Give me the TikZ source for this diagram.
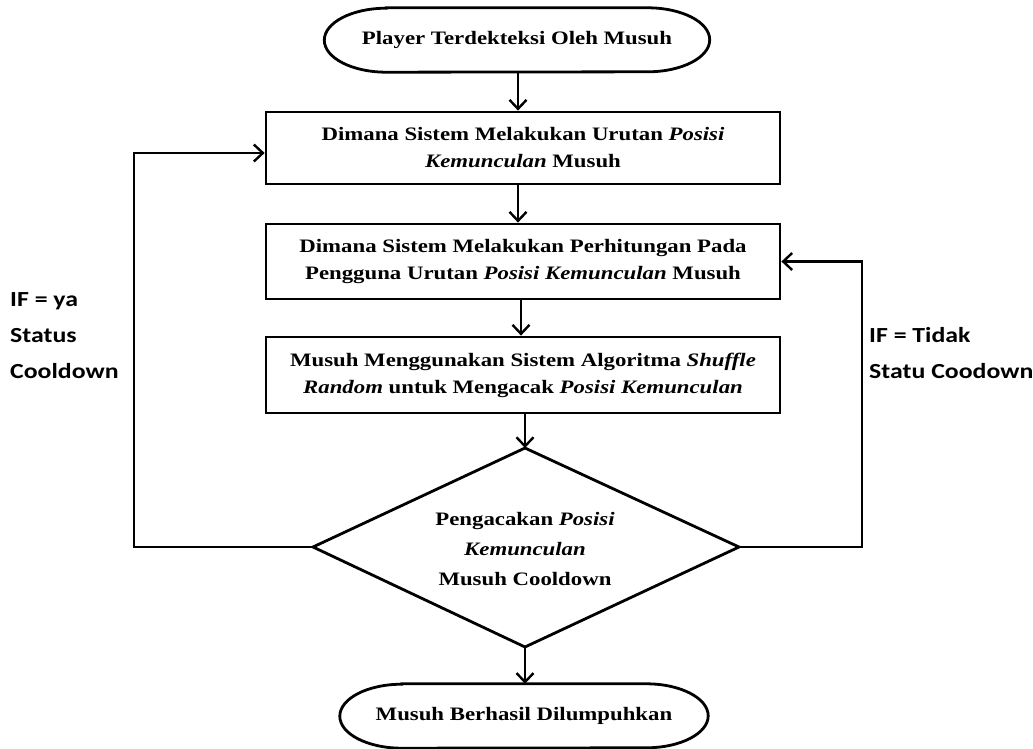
\documentclass[tikz,border=0pt]{standalone}
\usepackage{fontspec}
\setmainfont{Liberation Serif}[FakeStretch=1.2]
\newfontfamily\lblfont{Carlito}[FakeStretch=1.2]
\usetikzlibrary{arrows.meta,shapes.geometric}
\tikzset{
  arr/.style={line width=2.8pt, -{Straight Barb[length=9pt,width=17pt,line width=2.4pt]}},
  term/.style={rectangle, inner sep=0pt, font=\fontsize{19}{24}\selectfont\bfseries},
  termline/.style={line width=2.8pt},
  proc/.style={rectangle, draw, line width=2.8pt, minimum width=514pt, inner sep=0pt, align=center, font=\fontsize{19}{27}\selectfont\bfseries},
  dectext/.style={inner sep=0pt, align=center, font=\fontsize{19}{30}\selectfont\bfseries},
  decline/.style={line width=2.8pt, line join=miter},
  lbl/.style={anchor=north west, align=left, inner sep=0pt, font=\lblfont\fontsize{21.5}{36}\selectfont\bfseries}
}
\newcommand{\stadium}[1]{%
  \draw[termline] ([xshift=62pt]#1.north west) -- ([xshift=-62pt]#1.north east)
    arc[start angle=90,end angle=-90,x radius=62pt,y radius=32pt]
    -- ([xshift=62pt]#1.south west)
    arc[start angle=270,end angle=90,x radius=62pt,y radius=32pt] -- cycle;}
\begin{document}
\begin{tikzpicture}[x=1pt,y=-1pt]
\useasboundingbox (0,0) rectangle (1033,749);
\node[term, minimum width=385pt, minimum height=64pt] (start) at (517,40) {Player Terdekteksi Oleh Musuh};
\stadium{start}
\node[proc, minimum height=72pt] (b1) at (523,148) {Dimana Sistem Melakukan Urutan \textit{Posisi}\\\textit{Kemunculan} Musuh};
\node[proc, minimum height=75pt] (b2) at (523,261.5) {Dimana Sistem Melakukan Perhitungan Pada\\Pengguna Urutan \textit{Posisi Kemunculan} Musuh};
\node[proc, minimum height=76pt] (b3) at (523,375) {Musuh Menggunakan Sistem Algoritma \textit{Shuffle}\\\textit{Random} untuk Mengacak \textit{Posisi Kemunculan}};
\coordinate (dT) at (525,448);
\coordinate (dB) at (525,647);
\coordinate (dL) at (313,547);
\coordinate (dR) at (739,547);
\draw[decline] (dT) -- (dR) -- (dB) -- (dL) -- cycle;
\node[dectext] (d) at (525,549) {Pengacakan \textit{Posisi}\\\textit{Kemunculan}\\Musuh Cooldown};
\node[term, minimum width=368pt, minimum height=64pt] (end) at (524,716) {Musuh Berhasil Dilumpuhkan};
\stadium{end}
\coordinate (L) at (134,547);
\coordinate (R) at (862,547);
\coordinate (Lt) at (134,153);
\draw[arr] (518,0 |- start.south) -- (518,0 |- b1.north);
\draw[arr] (518,0 |- b1.south) -- (518,0 |- b2.north);
\draw[arr] (521,0 |- b2.south) -- (521,0 |- b3.north);
\draw[arr] (dT |- b3.south) -- (dT);
\draw[arr] (dB) -- (dB |- end.north);
\draw[arr] (dL) -- (L) -- (Lt) -- (Lt -| b1.west);
\draw[arr] (dR) -- (R) |- (b2.east);
\node[lbl] (ly) at (10,292) {IF = ya\\Status\\Cooldown};
\node[lbl] (lt) at (869,327) {IF = Tidak\\Statu Coodown};
\end{tikzpicture}
\end{document}
